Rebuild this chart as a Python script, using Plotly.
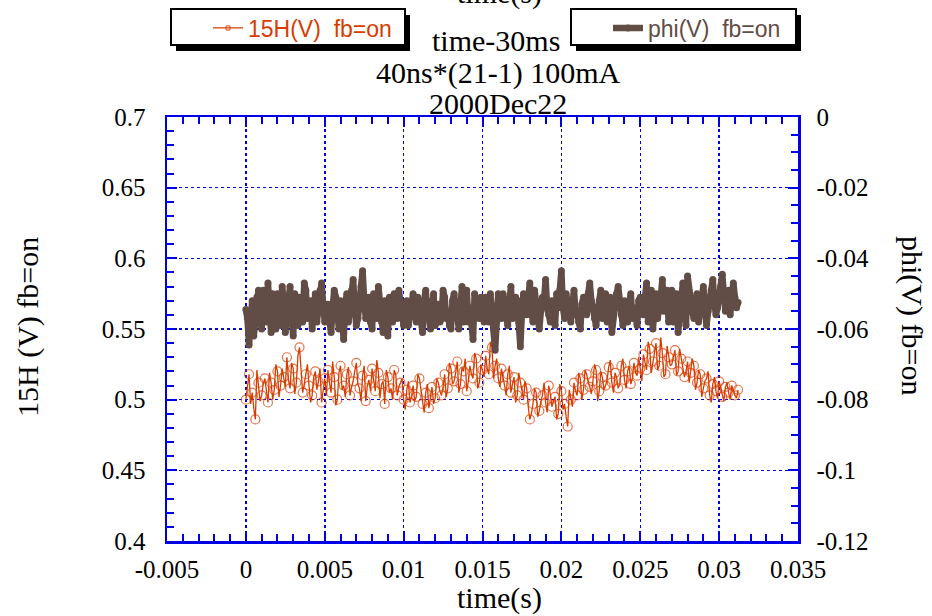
import plotly.graph_objects as go

# ---------------- data ----------------
dt = 0.0001  # sample spacing (s)

h15_values = [
    0.500, 0.509, 0.518, 0.497, 0.505, 0.494, 0.486, 0.521, 0.512, 0.499, 0.503, 0.511,
    0.515, 0.504, 0.498, 0.519, 0.512, 0.500, 0.507, 0.525, 0.520, 0.502, 0.510, 0.522, 0.516, 0.509,
    0.530, 0.514, 0.508, 0.526, 0.522, 0.504, 0.512, 0.531, 0.537, 0.520, 0.505, 0.511, 0.518, 0.525, 0.510, 0.498,
    0.503, 0.516, 0.520, 0.507, 0.513, 0.522, 0.498, 0.509, 0.515, 0.503,
    0.521, 0.512, 0.505, 0.527, 0.516, 0.496, 0.500, 0.519, 0.524, 0.507, 0.510, 0.502, 0.518, 0.523,
    0.503, 0.509, 0.513, 0.520, 0.526, 0.511, 0.508, 0.499, 0.517, 0.524, 0.499, 0.510, 0.514, 0.506,
    0.522, 0.514, 0.506, 0.528, 0.519, 0.501, 0.511, 0.513, 0.497, 0.521, 0.516, 0.505, 0.508, 0.500,
    0.521, 0.518, 0.503, 0.509, 0.512, 0.515, 0.500, 0.493,
    0.507, 0.513, 0.498, 0.502, 0.510, 0.499, 0.502, 0.518, 0.515, 0.506, 0.497, 0.491,
    0.505, 0.511, 0.494, 0.503, 0.509, 0.497, 0.501, 0.515, 0.512, 0.506, 0.503, 0.509,
    0.518, 0.502, 0.508, 0.526, 0.522, 0.511, 0.513, 0.519, 0.527, 0.505, 0.511, 0.523, 0.520,
    0.529, 0.506, 0.513, 0.524, 0.518, 0.515, 0.533, 0.529, 0.508, 0.512, 0.525, 0.521, 0.516,
    0.531, 0.522, 0.518, 0.541, 0.537, 0.515, 0.524, 0.529, 0.515, 0.509,
    0.522, 0.517, 0.510, 0.503, 0.518, 0.524, 0.505, 0.511, 0.516, 0.498,
    0.503, 0.519, 0.512, 0.506, 0.500, 0.513, 0.508, 0.495, 0.486, 0.490,
    0.497, 0.508, 0.505, 0.488, 0.492, 0.499, 0.503, 0.512, 0.498, 0.491, 0.510, 0.504, 0.495,
    0.499, 0.502, 0.486, 0.490, 0.511, 0.506, 0.493, 0.497, 0.488, 0.481, 0.507, 0.500, 0.495,
    0.512, 0.506, 0.503, 0.519, 0.515, 0.500, 0.507, 0.521, 0.518, 0.512, 0.509, 0.504,
    0.513, 0.525, 0.521, 0.499, 0.506, 0.520, 0.516, 0.507, 0.510, 0.514, 0.523,
    0.528, 0.512, 0.505, 0.519, 0.516, 0.508, 0.511, 0.524, 0.529, 0.514, 0.508,
    0.520, 0.524, 0.511, 0.515, 0.526, 0.519, 0.517, 0.530, 0.522, 0.513,
    0.532, 0.526, 0.521, 0.541, 0.536, 0.519, 0.527, 0.533, 0.540, 0.521, 0.524, 0.544, 0.533, 0.516, 0.518,
    0.538, 0.530, 0.524, 0.525, 0.531, 0.535, 0.517, 0.520, 0.536, 0.529, 0.523, 0.516, 0.520, 0.527, 0.512,
    0.519, 0.529, 0.524, 0.507, 0.512, 0.521, 0.518, 0.502, 0.508, 0.513, 0.515, 0.520, 0.503, 0.498, 0.511, 0.516,
    0.506, 0.501, 0.513, 0.508, 0.502, 0.499, 0.509, 0.512, 0.505, 0.500, 0.510, 0.506, 0.503, 0.501, 0.507,
]

phi_values = [
    -0.0545, -0.057, -0.0645, -0.055, -0.052, -0.062, -0.058, -0.051, -0.049, -0.056, -0.060, -0.049, -0.053,
    -0.058, -0.047, -0.054, -0.061, -0.050, -0.055, -0.060, -0.050, -0.053, -0.059, -0.048, -0.052, -0.061,
    -0.057, -0.052, -0.048, -0.056, -0.062, -0.050, -0.054, -0.059, -0.051, -0.055, -0.058, -0.047, -0.049,
    -0.057, -0.056, -0.052, -0.060, -0.055, -0.050, -0.058, -0.055, -0.049, -0.047, -0.053, -0.058, -0.055,
    -0.053, -0.058, -0.061, -0.054, -0.049, -0.051, -0.057, -0.060, -0.052, -0.056, -0.063, -0.053, -0.050,
    -0.058, -0.055, -0.049, -0.046, -0.054, -0.059, -0.057, -0.053, -0.048, -0.0435, -0.052, -0.057, -0.055,
    -0.051, -0.058, -0.060, -0.050, -0.054, -0.057, -0.048, -0.053, -0.058, -0.061, -0.052, -0.056, -0.062,
    -0.051, -0.055, -0.058, -0.050, -0.054, -0.057, -0.049, -0.053, -0.056, -0.059, -0.054,
    -0.052, -0.059, -0.056, -0.053, -0.050, -0.055, -0.058, -0.051, -0.054, -0.058, -0.061, -0.052, -0.049,
    -0.055, -0.056, -0.060, -0.052, -0.050, -0.059, -0.054, -0.053, -0.058, -0.057, -0.049, -0.051, -0.057,
    -0.055, -0.059, -0.060, -0.052, -0.050, -0.055, -0.056, -0.060, -0.053, -0.048, -0.058, -0.056, -0.049,
    -0.058, -0.054, -0.057, -0.063, -0.050, -0.052, -0.055, -0.057, -0.051, -0.055, -0.058,
    -0.051, -0.056, -0.058, -0.050, -0.054, -0.060, -0.066, -0.058, -0.050, -0.054, -0.057, -0.050, -0.053,
    -0.056, -0.059, -0.053, -0.048, -0.057, -0.055, -0.051, -0.052, -0.058, -0.065, -0.055, -0.050, -0.053,
    -0.056, -0.051, -0.047, -0.055, -0.058, -0.049, -0.053, -0.057, -0.060, -0.055, -0.051, -0.052, -0.046,
    -0.054, -0.056, -0.058, -0.052, -0.055, -0.059, -0.050, -0.054, -0.049, -0.0435, -0.054,
    -0.057, -0.050, -0.052, -0.055, -0.058, -0.053, -0.049, -0.056, -0.055, -0.058, -0.060, -0.053, -0.051,
    -0.055, -0.056, -0.050, -0.047, -0.052, -0.054, -0.057, -0.059, -0.055, -0.052, -0.049, -0.057, -0.054,
    -0.050, -0.058, -0.055, -0.051, -0.061, -0.056, -0.053, -0.050, -0.048, -0.053, -0.056, -0.059, -0.052,
    -0.055, -0.058, -0.053, -0.050, -0.057, -0.054, -0.056, -0.059, -0.052, -0.051, -0.054,
    -0.056, -0.051, -0.047, -0.058, -0.054, -0.049, -0.060, -0.055, -0.050, -0.057, -0.055, -0.051, -0.046,
    -0.055, -0.053, -0.049, -0.058, -0.054, -0.049, -0.058, -0.055, -0.050, -0.061, -0.055, -0.051, -0.047,
    -0.054, -0.059, -0.045, -0.050, -0.053, -0.055, -0.057, -0.053, -0.050, -0.058, -0.055, -0.051, -0.048,
    -0.054, -0.059, -0.055, -0.052, -0.049, -0.046, -0.053, -0.056, -0.054, -0.051, -0.048, -0.0445, -0.050,
    -0.055, -0.052, -0.049, -0.056, -0.053, -0.047, -0.051, -0.054, -0.0525,
]

time_s = [round(i * dt, 6) for i in range(len(h15_values))]
time_phi = [round(i * dt, 6) for i in range(len(phi_values))]

x_tickvals = [-0.005, 0, 0.005, 0.01, 0.015, 0.02, 0.025, 0.03, 0.035]
x_ticktext = ["-0.005", "0", "0.005", "0.01", "0.015", "0.02", "0.025", "0.03", "0.035"]
y1_tickvals = [0.4, 0.45, 0.5, 0.55, 0.6, 0.65, 0.7]
y1_ticktext = ["0.4", "0.45", "0.5", "0.55", "0.6", "0.65", "0.7"]
y2_tickvals = [-0.12, -0.1, -0.08, -0.06, -0.04, -0.02, 0]
y2_ticktext = ["-0.12", "-0.1", "-0.08", "-0.06", "-0.04", "-0.02", "0"]

name_h15 = "15H(V)\u00a0\u00a0fb=on"
name_phi = "phi(V)\u00a0\u00a0fb=on"
title_lines = ["time-30ms", "40ns*(21-1) 100mA", "2000Dec22"]

# ---------------- style ----------------
RED = "#d93c00"
BROWN = "#624c46"
BLUE = "#0000e6"
SERIF = "Liberation Serif, Times New Roman, serif"
SANS = "Liberation Sans, Arial, sans-serif"

W, H = 932, 616
L, R, T, B = 167, 798, 117, 541
pw, ph = R - L, B - T


def px_x(x):
    return (x - L) / pw


def px_y(y):
    return (B - y) / ph


red_marker_sizes = [9 if i % 2 == 0 else 0 for i in range(len(h15_values))]

fig = go.Figure()

fig.add_trace(go.Scatter(
    x=time_phi, y=phi_values, name=name_phi, yaxis="y2", mode="lines+markers",
    line=dict(color=BROWN, width=6.5), marker=dict(color=BROWN, size=7, symbol="circle"),
    legend="legend2",
))
fig.add_trace(go.Scatter(
    x=time_s, y=h15_values, name=name_h15, yaxis="y", mode="lines+markers",
    line=dict(color=RED, width=1.3),
    marker=dict(symbol="circle-open", color=RED, size=red_marker_sizes, line=dict(width=1.2, color=RED)),
    legend="legend",
))

axis_common = dict(
    showline=True, linecolor=BLUE, linewidth=2.5,
    ticks="inside", tickcolor=BLUE, tickwidth=2,
    tickfont=dict(family=SERIF, size=25, color="black"),
    zeroline=False,
)

fig.update_layout(
    width=W, height=H,
    margin=dict(l=L, r=W - R, t=T, b=H - B, pad=0, autoexpand=False),
    paper_bgcolor="white", plot_bgcolor="white",
    hovermode=False,
    xaxis=dict(
        range=[-0.005, 0.035], tickvals=x_tickvals, ticktext=x_ticktext,
        mirror="ticks", ticklen=10,
        minor=dict(dtick=0.001, ticks="inside", ticklen=7, tickcolor=BLUE, tickwidth=2, showgrid=False),
        showgrid=True, gridcolor=BLUE, griddash="dot", gridwidth=1.5,
        ticklabelstandoff=4,
        **axis_common,
    ),
    yaxis=dict(
        range=[0.4, 0.7], tickvals=y1_tickvals, ticktext=y1_ticktext,
        ticklen=10,
        minor=dict(dtick=0.01, ticks="inside", ticklen=7, tickcolor=BLUE, tickwidth=2, showgrid=False),
        showgrid=True, gridcolor=BLUE, griddash="dot", gridwidth=1.5,
        ticklabelstandoff=14,
        **axis_common,
    ),
    yaxis2=dict(
        range=[-0.12, 0], tickvals=y2_tickvals, ticktext=y2_ticktext,
        overlaying="y", side="right", ticklen=10,
        minor=dict(dtick=0.005, ticks="inside", ticklen=7, tickcolor=BLUE, tickwidth=2, showgrid=False),
        showgrid=False, ticklabelstandoff=11,
        **axis_common,
    ),
    legend=dict(
        x=px_x(208), y=px_y(28), xanchor="left", yanchor="middle",
        bgcolor="rgba(0,0,0,0)", borderwidth=0,
        font=dict(family=SANS, size=23, color=RED),
    ),
    legend2=dict(
        x=px_x(608), y=px_y(28), xanchor="left", yanchor="middle",
        bgcolor="rgba(0,0,0,0)", borderwidth=0,
        font=dict(family=SANS, size=23, color=BROWN),
    ),
    showlegend=True,
)

ann = []
for txt, cx, cy in zip(title_lines, [496, 498, 498], [41, 73, 104]):
    ann.append(dict(text=txt, x=px_x(cx), y=px_y(cy), xref="paper", yref="paper",
                    showarrow=False, xanchor="center", yanchor="middle",
                    font=dict(family=SERIF, size=30, color="black")))
ann.append(dict(text="time(s)", x=px_x(499), y=px_y(598), xref="paper", yref="paper",
                showarrow=False, xanchor="center", yanchor="middle",
                font=dict(family=SERIF, size=30, color="black")))
ann.append(dict(text="time(s)", x=px_x(499), y=px_y(-7), xref="paper", yref="paper",
                showarrow=False, xanchor="center", yanchor="middle",
                font=dict(family=SERIF, size=30, color="black")))
ann.append(dict(text="15H (V) fb=on", x=px_x(28), y=px_y(327), xref="paper", yref="paper",
                showarrow=False, xanchor="center", yanchor="middle", textangle=-90,
                font=dict(family=SERIF, size=30, color="black")))
ann.append(dict(text="phi(V) fb=on", x=px_x(912), y=px_y(315), xref="paper", yref="paper",
                showarrow=False, xanchor="center", yanchor="middle", textangle=90,
                font=dict(family=SERIF, size=30, color="black")))
fig.update_layout(annotations=ann)

# legend frames with drop shadows
shapes = []
for x0, x1 in [(171, 405), (571, 796)]:
    shapes.append(dict(type="rect", xref="paper", yref="paper",
                       x0=px_x(x0 + 5), x1=px_x(x1 + 5), y0=px_y(15), y1=px_y(51),
                       fillcolor="black", line=dict(width=0), layer="above"))
    shapes.append(dict(type="rect", xref="paper", yref="paper",
                       x0=px_x(x0), x1=px_x(x1), y0=px_y(9), y1=px_y(45),
                       fillcolor="white", line=dict(width=2, color="black"), layer="above"))
fig.update_layout(shapes=shapes)

fig.write_html("out.html", config={"displayModeBar": False, "staticPlot": True},
               post_script="document.body.style.margin='0';")
